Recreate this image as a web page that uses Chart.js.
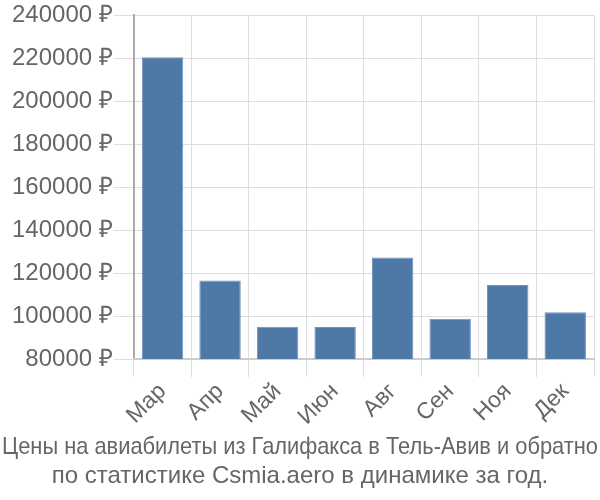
<!DOCTYPE html>
<html>
<head>
<meta charset="utf-8">
<script src="https://cdn.jsdelivr.net/npm/chart.js@4/dist/chart.umd.min.js"></script>
<style>
  html, body { margin: 0; padding: 0; background: #fff; }
  #wrap { width: 600px; height: 500px; }
</style>
</head>
<body>
<div id="wrap"><canvas id="chart" width="600" height="500"></canvas></div>
<script>
// Chart data
const months = ['Мар', 'Апр', 'Май', 'Июн', 'Авг', 'Сен', 'Ноя', 'Дек'];
const prices = [220500, 116600, 95000, 94900, 127300, 98800, 114500, 101800];
const yTicks = [80000, 100000, 120000, 140000, 160000, 180000, 200000, 220000, 240000];
const titleLines = [
    'Цены на авиабилеты из Галифакса в Тель-Авив и обратно',
    'по статистике Csmia.aero в динамике за год.'
];

Chart.defaults.font.family = '"Liberation Sans", Arial, sans-serif';
Chart.defaults.color = '#666';

new Chart(document.getElementById('chart'), {
    type: 'bar',
    data: {
        labels: months,
        datasets: [{
            data: prices,
            backgroundColor: '#4e79a7',
            borderColor: '#6f93bb',
            borderWidth: 1
        }]
    },
    options: {
        responsive: false,
        animation: false,
        layout: { padding: { left: 2, right: 2, top: 2, bottom: 0 } },
        plugins: {
            legend: { display: false },
            tooltip: { enabled: false },
            title: {
                display: true,
                position: 'bottom',
                text: titleLines,
                font: { size: 24, weight: 'normal', lineHeight: 1.2 },
                color: '#666',
                padding: { top: 2, bottom: 9 }
            }
        },
        scales: {
            y: {
                min: yTicks[0],
                max: yTicks[yTicks.length - 1],
                afterBuildTicks: axis => { axis.ticks = yTicks.map(v => ({ value: v })); },
                afterFit: axis => { axis.width += 9; },
                ticks: {
                    font: { size: 24 },
                    color: '#666',
                    padding: 1,
                    callback: v => v + ' ₽'
                },
                grid: { color: '#ddd', tickLength: 20 },
                border: { color: '#aaa', width: 2 }
            },
            // empty spacer on the right edge
            yRight: {
                position: 'right',
                grid: { display: false },
                ticks: { display: false },
                border: { display: false },
                afterFit: axis => { axis.width = 4; }
            },
            x: {
                ticks: {
                    font: { size: 23 },
                    color: '#666',
                    maxRotation: 45,
                    minRotation: 45,
                    padding: 1
                },
                grid: { color: '#ddd', offset: true, tickLength: 18 },
                border: { color: '#ccc', width: 2 }
            }
        }
    }
});
</script>
</body>
</html>
